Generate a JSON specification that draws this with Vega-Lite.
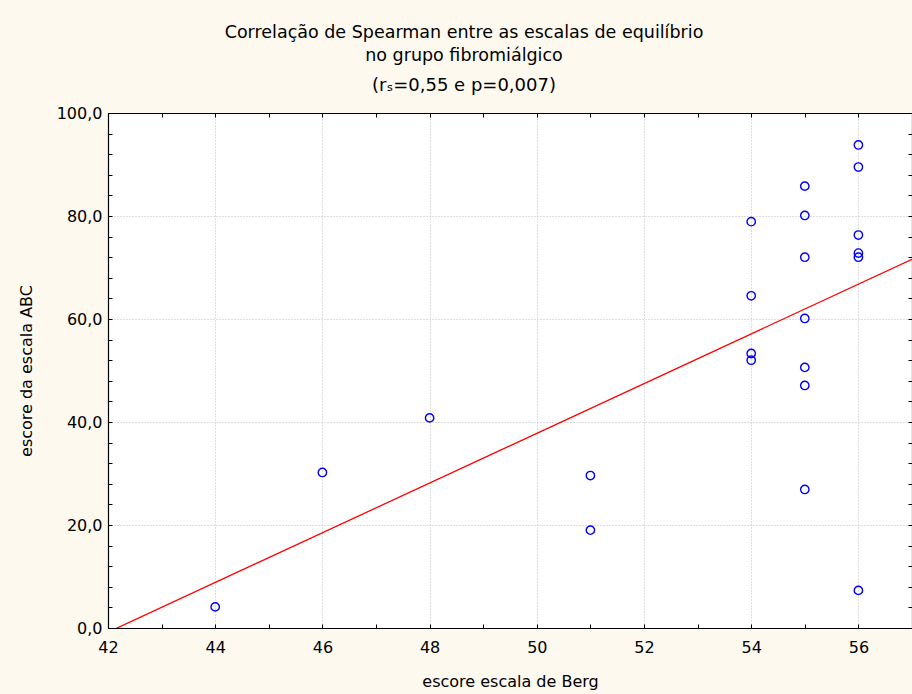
{
  "$schema": "https://vega.github.io/schema/vega-lite/v6.json",
  "width": 804,
  "height": 515,
  "autosize": {"type": "none"},
  "padding": {"left": 108, "top": 113, "right": 0, "bottom": 66},
  "background": "#FDF9EF",
  "config": {
    "view": {"fill": "white", "stroke": "black", "strokeWidth": 1},
    "font": "DejaVu Sans",
    "axis": {"labelFont": "DejaVu Sans", "titleFont": "DejaVu Sans", "labelColor": "black", "titleColor": "black", "domainColor": "black", "tickColor": "black", "titleFontWeight": "normal"}
  },
  "title": {
    "text": ["Correlação de Spearman entre as escalas de equilíbrio", "no grupo fibromiálgico"],
    "subtitle": "(rₛ=0,55 e p=0,007)",
    "anchor": "middle",
    "frame": "group",
    "dx": -46,
    "font": "DejaVu Sans",
    "fontSize": 17.5,
    "fontWeight": "normal",
    "color": "black",
    "lineHeight": 23,
    "subtitleFont": "DejaVu Sans",
    "subtitleFontSize": 18,
    "subtitleColor": "black",
    "subtitlePadding": 13,
    "offset": 10
  },
  "datasets": {
    "pts": [
      {"berg": 44, "abc": 4.1},
      {"berg": 46, "abc": 30.2},
      {"berg": 48, "abc": 40.8},
      {"berg": 51, "abc": 29.6},
      {"berg": 51, "abc": 19.0},
      {"berg": 54, "abc": 78.9},
      {"berg": 54, "abc": 64.5},
      {"berg": 54, "abc": 53.3},
      {"berg": 54, "abc": 52.0},
      {"berg": 55, "abc": 85.8},
      {"berg": 55, "abc": 80.1},
      {"berg": 55, "abc": 72.0},
      {"berg": 55, "abc": 60.1},
      {"berg": 55, "abc": 50.6},
      {"berg": 55, "abc": 47.1},
      {"berg": 55, "abc": 26.9},
      {"berg": 56, "abc": 93.8},
      {"berg": 56, "abc": 89.5},
      {"berg": 56, "abc": 76.3},
      {"berg": 56, "abc": 72.8},
      {"berg": 56, "abc": 72.0},
      {"berg": 56, "abc": 7.3}
    ],
    "fit": [
      {"berg": 42, "abc": -0.82},
      {"berg": 57, "abc": 71.6}
    ]
  },
  "resolve": {"axis": {"x": "independent", "y": "independent"}},
  "layer": [
    {
      "data": {"name": "fit"},
      "mark": {"type": "line", "color": "#FF0000", "strokeWidth": 1.3, "clip": true},
      "encoding": {
        "x": {"field": "berg", "type": "quantitative", "scale": {"domain": [42, 57], "nice": false, "zero": false},
          "axis": {"orient": "bottom", "title": "escore escala de Berg", "titleFontSize": 16, "titlePadding": 18,
            "values": [42,43,44,45,46,47,48,49,50,51,52,53,54,55,56,57],
            "labelExpr": "datum.value % 2 == 0 && datum.value < 57 ? datum.label : ''",
            "labelFontSize": 16, "labelPadding": 15, "labelFlush": false, "labelOverlap": false,
            "tickSize": -4, "tickWidth": 1, "domainWidth": 1.2,
            "grid": true, "gridColor": "#BDBDBD", "gridDash": [1, 2], "gridWidth": 1,
            "gridOpacity": {"condition": {"test": "datum.value % 2 == 0 && datum.value > 42 && datum.value < 57", "value": 1}, "value": 0}}},
        "y": {"field": "abc", "type": "quantitative", "scale": {"domain": [0, 100], "nice": false},
          "axis": {"orient": "left", "title": "escore da escala ABC", "titleFontSize": 16, "titlePadding": 22,
            "values": [0,4,8,12,16,20,24,28,32,36,40,44,48,52,56,60,64,68,72,76,80,84,88,92,96,100],
            "labelExpr": "datum.value % 20 == 0 ? replace(format(datum.value, '.1f'), '.', ',') : ''",
            "labelFontSize": 16, "labelPadding": 10, "labelFlush": false, "labelOverlap": false,
            "tickSize": -4, "tickWidth": 1, "domainWidth": 1.2,
            "grid": true, "gridColor": "#BDBDBD", "gridDash": [1, 2], "gridWidth": 1,
            "gridOpacity": {"condition": {"test": "datum.value % 20 == 0 && datum.value > 0 && datum.value < 100", "value": 1}, "value": 0}}}
      }
    },
    {
      "data": {"name": "pts"},
      "mark": {"type": "point", "shape": "circle", "filled": false, "color": "#0000FF", "size": 70, "strokeWidth": 1.4, "opacity": 1},
      "encoding": {
        "x": {"field": "berg", "type": "quantitative",
          "axis": {"orient": "top", "title": null, "labels": false, "grid": false,
            "values": [42,43,44,45,46,47,48,49,50,51,52,53,54,55,56,57],
            "tickSize": -4, "tickWidth": 1, "domainWidth": 1.2}},
        "y": {"field": "abc", "type": "quantitative",
          "axis": {"orient": "right", "title": null, "labels": false, "grid": false,
            "values": [0,4,8,12,16,20,24,28,32,36,40,44,48,52,56,60,64,68,72,76,80,84,88,92,96,100],
            "tickSize": -4, "tickWidth": 1, "domainWidth": 1.2}}
      }
    }
  ]
}
